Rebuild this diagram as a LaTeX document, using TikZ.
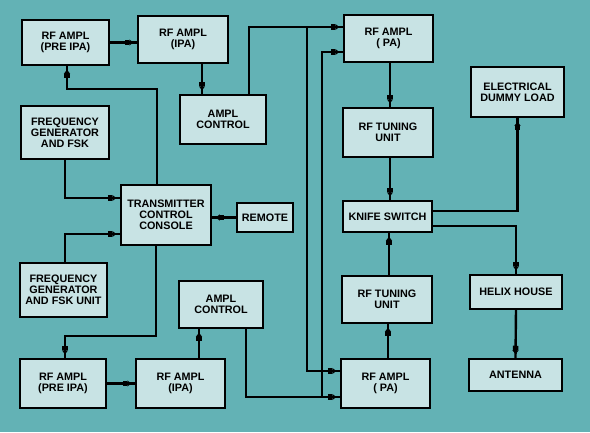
\documentclass[tikz,border=0pt]{standalone}
\usepackage{fontspec}
\setmainfont{Liberation Sans}
\usetikzlibrary{arrows.meta,decorations.markings}
\definecolor{bgteal}{RGB}{99,178,181}
\definecolor{boxfill}{RGB}{200,227,228}
\tikzset{
	blk/.style={draw,line width=1.5pt,fill=boxfill,align=center,inner sep=1pt,
		font=\fontsize{10.8}{11.2}\selectfont\bfseries},
	arr/.style={line width=2.4pt,postaction={decorate},
		decoration={markings,mark=at position -4pt with {\arrow{Rectangle[length=4.5pt,width=5.5pt,sep=0pt]Triangle[length=4pt,width=6pt,sep=0pt]}}}}
}
\begin{document}
\begin{tikzpicture}[x=1pt,y=-1pt, line join=miter]
	\fill[bgteal] (0,0) rectangle (590,432);
	% left column
	\node[blk,minimum width=87,minimum height=45] (preT) at (65.5,42.5) {RF AMPL\\(PRE IPA)};
	\node[blk,minimum width=90,minimum height=47] (ipaT) at (183,39.5) {RF AMPL\\(IPA)};
	\node[blk,minimum width=86,minimum height=49] (acT) at (223,119.5) {AMPL\\CONTROL};
	\node[blk,minimum width=88,minimum height=53] (fg) at (65,132.5) {FREQUENCY\\GENERATOR\\AND FSK};
	\node[blk,minimum width=90,minimum height=60] (con) at (166,215) {TRANSMITTER\\CONTROL\\CONSOLE};
	\node[blk,minimum width=56,minimum height=29] (rem) at (265,217.5) {REMOTE};
	\node[blk,minimum width=87,minimum height=54] (fgu) at (63.5,290) {FREQUENCY\\GENERATOR\\AND FSK UNIT};
	\node[blk,minimum width=84,minimum height=47] (acB) at (221,304.5) {AMPL\\CONTROL};
	\node[blk,minimum width=86,minimum height=49] (preB) at (63,383.5) {RF AMPL\\(PRE IPA)};
	\node[blk,minimum width=89,minimum height=49] (ipaB) at (180.5,383.5) {RF AMPL\\(IPA)};
	% right part
	\node[blk,minimum width=89,minimum height=47] (paT) at (388.5,38.5) {RF AMPL\\( PA)};
	\node[blk,minimum width=90,minimum height=49] (tunT) at (388,132.5) {RF TUNING\\UNIT};
	\node[blk,minimum width=89,minimum height=31] (ks) at (387.5,216.5) {KNIFE SWITCH};
	\node[blk,minimum width=93,minimum height=50] (dl) at (517.5,92) {ELECTRICAL\\DUMMY LOAD};
	\node[blk,minimum width=90,minimum height=47] (tunB) at (387,299.5) {RF TUNING\\UNIT};
	\node[blk,minimum width=89,minimum height=49] (paB) at (385.5,383.5) {RF AMPL\\( PA)};
	\node[blk,minimum width=92,minimum height=34] (hh) at (516,292) {HELIX HOUSE};
	\node[blk,minimum width=93,minimum height=32] (ant) at (515.5,375) {ANTENNA};
	% connectors, upper chain
	\draw[arr] (preT.east) -- (preT.east -| ipaT.west);
	\draw[arr] (ipaT.south -| 202,0) -- (acT.north -| 202,0);
	\draw[arr] (con.north -| 157,0) -- (157,89) -| (preT.south -| 67,0);
	\draw[arr] (fg.south) |- (con.west |- 0,198);
	\draw[arr] (rem.west) -- (rem.west -| con.east);
	\draw[arr] (fgu.north -| 65,0) |- (con.west |- 0,234);
	% lower chain
	\draw[arr] (con.south -| 156,0) -- (156,336) -| (preB.north -| 65,0);
	\draw[arr] (preB.east) -- (preB.east -| ipaB.west);
	\draw[arr] (ipaB.north -| 199,0) -- (acB.south -| 199,0);
	% ampl controls to both PAs
	\coordinate (jt) at (307,27);
	\coordinate (jb) at (322,397);
	\draw[arr] (acT.north -| 249,0) |- (paT.west |- jt);
	\draw[arr] (acB.south -| 246,0) |- (paB.west |- jb);
	\draw[arr] (jt) |- (paB.west |- 0,371);
	\draw[arr] (jb) |- (paT.west |- 0,52);
	% output side
	\draw[arr] (paT.south -| 390,0) -- (tunT.north -| 390,0);
	\draw[arr] (tunT.south -| 390,0) -- (ks.north -| 390,0);
	\draw[arr] (paB.north -| 388,0) -- (tunB.south -| 388,0);
	\draw[arr] (tunB.north -| 389,0) -- (ks.south -| 389,0);
	\draw[arr] (ks.east |- 0,211) -| (dl.south);
	\draw[arr] (ks.east |- 0,226) -| (hh.north);
	\draw[arr] (hh.south) -- (ant.north);
\end{tikzpicture}
\end{document}
